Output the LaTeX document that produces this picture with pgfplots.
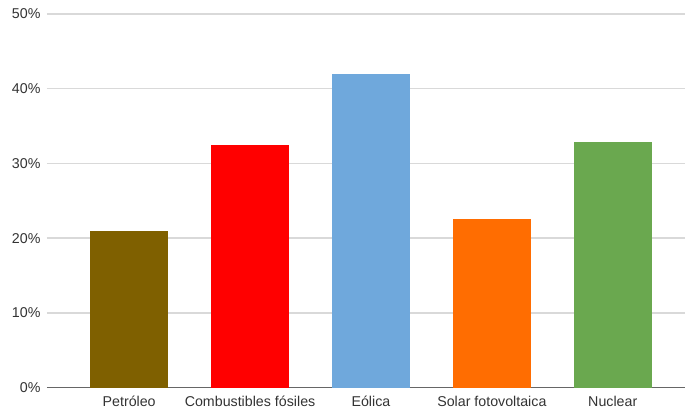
\documentclass[border=0pt]{standalone}
\usepackage{fontspec}
\setmainfont{Liberation Sans}
\usepackage{pgfplots}
\pgfplotsset{compat=1.18}

\definecolor{petroleo}{HTML}{7F6000}
\definecolor{fosiles}{HTML}{FF0000}
\definecolor{eolica}{HTML}{6FA8DC}
\definecolor{solar}{HTML}{FF6D01}
\definecolor{nuclear}{HTML}{6AA84F}
\definecolor{gridgray}{HTML}{D9D9D9}
\definecolor{labelgray}{HTML}{333333}

\begin{document}
\begin{tikzpicture}
\begin{axis}[
  scale only axis,
  width=639bp, height=374bp,
  xmin=-0.68, xmax=4.6,
  ymin=0, ymax=50,
  ytick={0,10,20,30,40,50},
  yticklabel={\pgfmathprintnumber{\tick}\%},
  xtick={0,1,2,3,4},
  xticklabels={Petróleo, Combustibles fósiles, Eólica, Solar fotovoltaica, Nuclear},
  /pgf/number format/assume math mode=true,
  ymajorgrids,
  major grid style={gridgray, line width=1.4bp},
  axis x line*=bottom,
  axis y line*=left,
  y axis line style={draw=none},
  x axis line style={draw=gray!80!black, line width=1.2bp, -},
  major tick length=0pt,
  tick style={draw=none},
  ticklabel style={font=\fontsize{14.3}{16}\selectfont, text=labelgray},
  yticklabel style={xshift=-3bp},
  xticklabel style={yshift=-5bp},
  ybar, bar width=78bp, bar shift=0pt,
  clip=false,
]
\addplot[fill=petroleo, draw=none] coordinates {(0,20.9)};
\addplot[fill=fosiles, draw=none] coordinates {(1,32.5)};
\addplot[fill=eolica, draw=none] coordinates {(2,42.0)};
\addplot[fill=solar, draw=none] coordinates {(3,22.6)};
\addplot[fill=nuclear, draw=none] coordinates {(4,32.9)};
\end{axis}
\path[use as bounding box] (-47bp,-24bp) rectangle (639bp,388bp);
\end{tikzpicture}
\end{document}
